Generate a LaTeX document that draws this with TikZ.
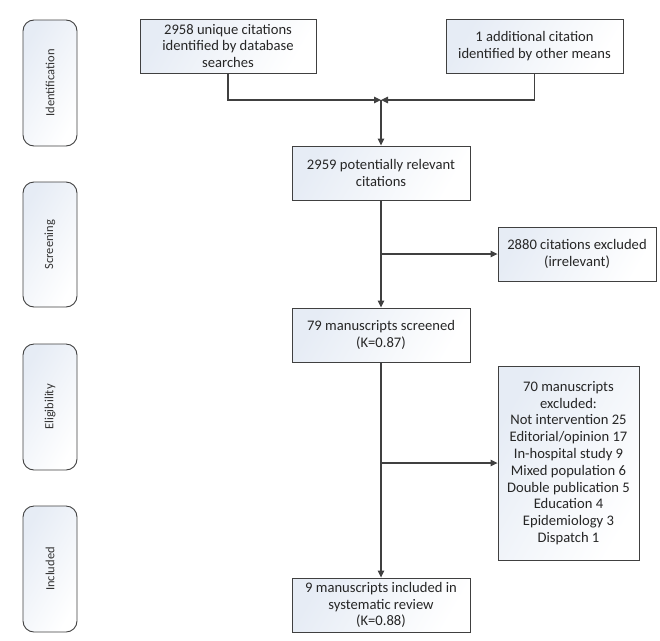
\documentclass[tikz,border=0pt]{standalone}
\usepackage{fontspec}
\setmainfont{Carlito}
\usepackage{tikz}
\usetikzlibrary{arrows.meta, positioning, calc, shadings}
\definecolor{boxLine}{HTML}{404040}
\definecolor{boxTint}{HTML}{E6ECF5}

\begin{document}
\begin{tikzpicture}[x=1pt, y=-1pt,
    box/.style={draw=boxLine, line width=0.9pt, left color=boxTint, right color=white, shading angle=60,
        align=center, inner sep=2pt, font=\fontsize{14.6}{16.8}\selectfont, text=black!85},
    stage/.style={draw=boxLine, line width=0.9pt, rounded corners=11pt, left color=boxTint, right color=white,
        shading angle=60, minimum width=54pt, font=\fontsize{12.5}{15}\selectfont, text=black!80},
    flow/.style={draw=boxLine, line width=1.1pt, -{Triangle[length=7pt, width=6.5pt]}}]

    \useasboundingbox (0,0) rectangle (660,640);

    % Stages
    \node[stage, minimum height=126pt] (ident) at (50,83) {};
    \node[rotate=90, font=\fontsize{12.5}{15}\selectfont, text=black!80] at (ident) {Identification};
    \node[stage, minimum height=125pt] (screen) at (50,244.5) {};
    \node[rotate=90, font=\fontsize{12.5}{15}\selectfont, text=black!80] at (screen) {Screening};
    \node[stage, minimum height=126pt] (elig) at (50,407) {};
    \node[rotate=90, font=\fontsize{12.5}{15}\selectfont, text=black!80] at (elig) {Eligibility};
    \node[stage, minimum height=126pt] (incl) at (50,569) {};
    \node[rotate=90, font=\fontsize{12.5}{15}\selectfont, text=black!80] at (incl) {Included};

    % Boxes
    \node[box, minimum width=176pt, minimum height=54pt] (dbase) at (228,46)
        {2958 unique citations\\identified by database\\searches};
    \node[box, minimum width=177pt, minimum height=54pt] (other) at (534.5,46)
        {1 additional citation\\identified by other means};
    \node[box, minimum width=178pt, minimum height=54pt] (relevant) at (381,173)
        {2959 potentially relevant\\citations};
    \node[box, minimum width=158pt, minimum height=54pt] (irrel) at (577,254)
        {2880 citations excluded\\(irrelevant)};
    \node[box, minimum width=178pt, minimum height=54pt] (screened) at (381,335)
        {79 manuscripts screened\\(Κ=0.87)};
    \node[box, minimum width=141pt, minimum height=194pt] (excl) at (568.5,463)
        {70 manuscripts\\excluded:\\Not intervention 25\\Editorial/opinion 17\\In-hospital study 9\\Mixed population 6\\Double publication 5\\Education 4\\Epidemiology 3\\Dispatch 1};
    \node[box, minimum width=178pt, minimum height=54pt] (review) at (381,605)
        {9 manuscripts included in\\systematic review\\(Κ=0.88)};

    % Arrows
    \coordinate (merge) at (relevant.north |- 0,100);
    \draw[flow] (dbase.south) |- (merge);
    \draw[flow] (other.south) |- (merge);
    \draw[flow] (merge) -- (relevant.north);
    \draw[flow] (relevant.south) -- (screened.north);
    \draw[flow] (relevant.south |- irrel.west) -- (irrel.west);
    \draw[flow] (screened.south) -- (review.north);
    \draw[flow] (screened.south |- excl.west) -- (excl.west);
\end{tikzpicture}
\end{document}
